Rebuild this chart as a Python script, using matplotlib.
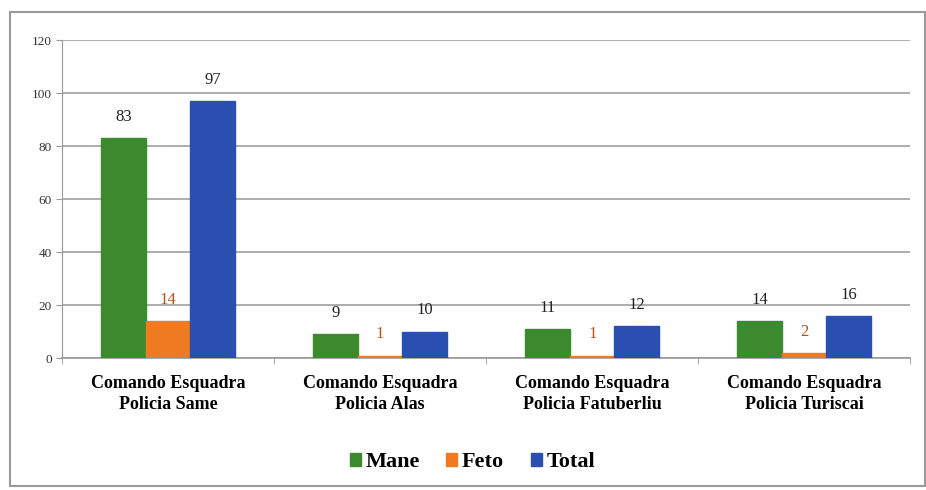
import matplotlib.pyplot as plt
import matplotlib.patches as mpatches
import numpy as np

# dados
categorias = ['Comando Esquadra\nPolicia Same', 'Comando Esquadra\nPolicia Alas',
              'Comando Esquadra\nPolicia Fatuberliu', 'Comando Esquadra\nPolicia Turiscai']
mane = [83, 9, 11, 14]
feto = [14, 1, 1, 2]
total = [97, 10, 12, 16]

series = ['Mane', 'Feto', 'Total']
cores = ['#3c8a2e', '#f07a22', '#2a4fb0']
cores_txt = ['#222222', '#b5541a', '#222222']

plt.rcParams['font.family'] = ['Liberation Serif', 'DejaVu Serif']

fig = plt.figure(figsize=(9.26, 4.90), dpi=100)
ax = fig.add_axes([0.067, 0.269, 0.916, 0.649])

# moldura exterior
fig.patches.append(mpatches.Rectangle((10/926, 4/490), 915/926, 474/490,
                                      transform=fig.transFigure, fill=False,
                                      edgecolor='#9a9a9a', linewidth=1.5))

x = np.arange(len(categorias))
w = 0.21
for i, (nome, vals) in enumerate(zip(series, [mane, feto, total])):
    pos = x + (i - 1) * w
    ax.bar(pos, vals, w, color=cores[i], edgecolor=cores[i], label=nome, zorder=3)
    for p, v in zip(pos, vals):
        ax.text(p, v + 5, str(v), ha='center', va='bottom', fontsize=12,
                color=cores_txt[i])

ax.set_ylim(0, 120)
ax.set_yticks(range(0, 121, 20))
ax.set_xlim(-0.5, len(categorias) - 0.5)
ax.set_xticks(x)
ax.set_xticklabels(categorias, fontsize=13, fontweight='bold', linespacing=1.35)
ax.set_xticks(np.arange(-0.5, len(categorias)), minor=True)
ax.tick_params(axis='x', which='major', length=0, pad=12)
ax.tick_params(axis='x', which='minor', length=4, color='#999999')
ax.tick_params(axis='y', labelsize=9.5, length=4, color='#999999', colors='#333333')

ax.yaxis.grid(True, color='#a0a0a0', linewidth=1.2, zorder=0)
for lado in ['top', 'right']:
    ax.spines[lado].set_visible(False)
ax.spines['left'].set_color('#999999')
ax.spines['bottom'].set_color('#999999')
ax.spines['bottom'].set_linewidth(1.2)

leg = fig.legend(loc='center', bbox_to_anchor=(0.51, 0.057), ncol=3, frameon=False,
                 prop={'weight': 'bold', 'size': 16}, handlelength=0.5,
                 handleheight=0.5, handletextpad=0.2, columnspacing=1.2)

plt.savefig('out.png', dpi=100)
